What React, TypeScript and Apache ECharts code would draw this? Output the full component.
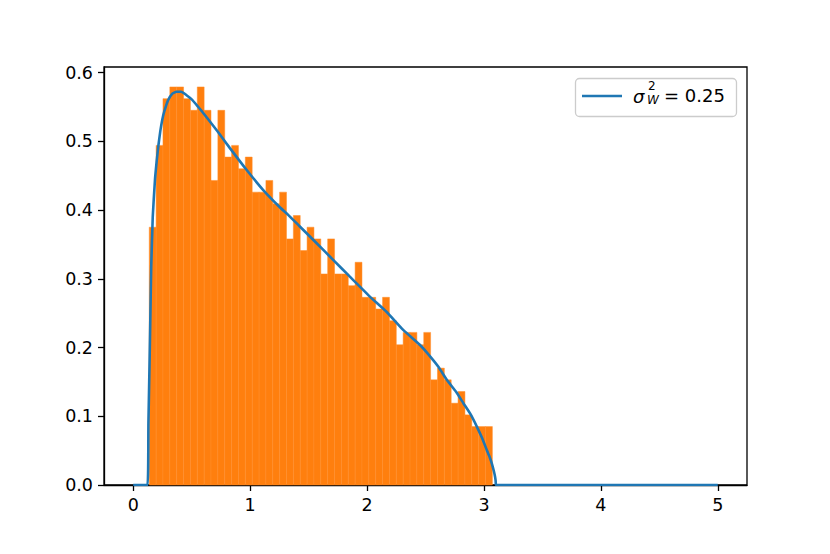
import React, { useEffect, useRef } from "react";
import * as echarts from "echarts";

// Histogram (density): 50 equal bins
const binStart = 0.137;
const binWidth = 0.0587;
const binHeights = [
  0.375, 0.494, 0.562, 0.579, 0.579, 0.562, 0.545, 0.579, 0.545, 0.443,
  0.545, 0.477, 0.494, 0.46, 0.477, 0.426, 0.426, 0.443, 0.409, 0.426,
  0.358, 0.392, 0.341, 0.375, 0.358, 0.307, 0.358, 0.307, 0.307, 0.29,
  0.324, 0.273, 0.273, 0.256, 0.273, 0.239, 0.204, 0.222, 0.222, 0.204,
  0.222, 0.153, 0.17, 0.153, 0.119, 0.136, 0.102, 0.085, 0.085, 0.085,
];

// Density curve
const curveX = [
  0, 0.122, 0.13, 0.139, 0.147, 0.154, 0.167, 0.186, 0.2, 0.214, 0.231, 0.248,
  0.265, 0.299, 0.333, 0.37, 0.41, 0.456, 0.5, 0.541, 0.59, 0.641, 0.727,
  0.827, 0.969, 1.112, 1.254, 1.325, 1.425, 1.567, 1.71, 1.853, 1.924,
  2.024, 2.166, 2.309, 2.451, 2.53, 2.61, 2.682, 2.76, 2.824, 2.885, 2.939,
  2.985, 3.024, 3.05, 3.067, 3.085, 3.095, 3.1, 3.104, 5,
];
const curveY = [
  0, 0, 0.09, 0.172, 0.25, 0.318, 0.39, 0.444, 0.47, 0.492, 0.514, 0.531,
  0.543, 0.56, 0.569, 0.572, 0.572, 0.567, 0.561, 0.553, 0.543, 0.532, 0.513,
  0.49, 0.4585, 0.429, 0.404, 0.393, 0.376, 0.352, 0.3275, 0.303, 0.291,
  0.274, 0.252, 0.2256, 0.204, 0.189, 0.172, 0.153, 0.136, 0.119, 0.103, 0.085,
  0.068, 0.051, 0.04, 0.0316, 0.02, 0.012, 0.006, 0, 0,
];

const xTicks = [0, 1, 2, 3, 4, 5];
const yTicks = [0, 0.1, 0.2, 0.3, 0.4, 0.5, 0.6];
const legendLabel = { base: "σ", sup: "2", sub: "W", rest: "= 0.25" };

const FONT = "DejaVu Sans";

export default function App() {
  const ref = useRef<HTMLDivElement>(null);
  useEffect(() => {
    if (!ref.current) return;
    const chart = echarts.init(ref.current, null, { renderer: "svg" });
    const histData = binHeights.map((h, i) => [
      binStart + i * binWidth,
      binStart + (i + 1) * binWidth,
      h,
    ]);
    const lineData = curveX.map((x, i) => [x, curveY[i]]);
    const axisCommon = {
      axisLine: { show: true, onZero: false, lineStyle: { color: "#000", width: 1.3 } },
      axisTick: { show: true, inside: false, length: 6, lineStyle: { color: "#000", width: 1.3 } },
      splitLine: { show: false },
    };
    chart.setOption({
      animation: false,
      backgroundColor: "#fff",
      grid: {
        left: 104,
        right: 83,
        top: 67,
        bottom: 69,
        show: true,
        borderColor: "#000",
        borderWidth: 1.3,
        containLabel: false,
      },
      xAxis: {
        type: "value",
        min: -0.25,
        max: 5.25,
        ...axisCommon,
        axisTick: { ...axisCommon.axisTick, customValues: xTicks },
        axisLabel: {
          customValues: xTicks,
          color: "#000",
          fontFamily: FONT,
          fontSize: 17.5,
          margin: 11,
          formatter: (v: number) => String(v),
        },
      },
      yAxis: {
        type: "value",
        min: 0,
        max: 0.608,
        ...axisCommon,
        axisTick: { ...axisCommon.axisTick, customValues: yTicks },
        axisLabel: {
          customValues: yTicks,
          color: "#000",
          fontFamily: FONT,
          fontSize: 17.5,
          margin: 11,
          formatter: (v: number) => v.toFixed(1),
        },
      },
      series: [
        {
          type: "custom",
          name: "hist",
          data: histData,
          encode: { x: [0, 1], y: 2 },
          z: 2,
          renderItem: (params: any, api: any) => {
            const p0 = api.coord([api.value(0), 0]);
            const p1 = api.coord([api.value(1), api.value(2)]);
            return {
              type: "rect",
              shape: { x: p0[0], y: p1[1], width: p1[0] - p0[0], height: p0[1] - p1[1] },
              style: { fill: "#ff7f0e", stroke: "#ff8d2a", lineWidth: 0.5 },
            };
          },
        },
        {
          type: "line",
          name: "curve",
          data: lineData,
          showSymbol: false,
          symbol: "none",
          smooth: 0.15,
          z: 3,
          lineStyle: { color: "#1f77b4", width: 2.6 },
        },
      ],
      graphic: [
        {
          type: "group",
          z: 100,
          children: [
            {
              type: "rect",
              shape: { x: 575.5, y: 78.5, width: 161, height: 38, r: 4 },
              style: { fill: "rgba(255,255,255,0.8)", stroke: "#cccccc", lineWidth: 1.3 },
            },
            {
              type: "line",
              shape: { x1: 582, y1: 96, x2: 622, y2: 96 },
              style: { stroke: "#1f77b4", lineWidth: 2.6 },
            },
            {
              type: "text",
              x: 633,
              y: 96,
              style: {
                text: legendLabel.base,
                font: `italic 18px "${FONT}"`,
                fill: "#000",
                verticalAlign: "middle",
              },
            },
            {
              type: "text",
              x: 648,
              y: 86,
              style: {
                text: legendLabel.sup,
                font: `12px "${FONT}"`,
                fill: "#000",
                verticalAlign: "middle",
              },
            },
            {
              type: "text",
              x: 647,
              y: 100,
              style: {
                text: legendLabel.sub,
                font: `italic 12px "${FONT}"`,
                fill: "#000",
                verticalAlign: "middle",
              },
            },
            {
              type: "text",
              x: 664,
              y: 95,
              style: {
                text: legendLabel.rest,
                font: `18px "${FONT}"`,
                fill: "#000",
                verticalAlign: "middle",
              },
            },
          ],
        },
      ],
    });
    return () => chart.dispose();
  }, []);
  return (
    <div
      ref={ref}
      style={{ position: "absolute", left: 0, top: 0, width: 830, height: 554, background: "#fff" }}
    />
  );
}
